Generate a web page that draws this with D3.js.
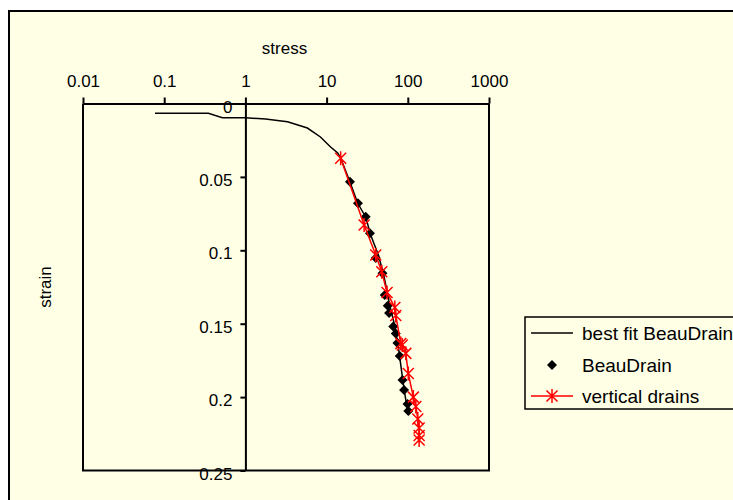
<!DOCTYPE html>
<html>
<head>
<meta charset="utf-8">
<script src="https://cdn.jsdelivr.net/npm/d3@7"></script>
<style>
  body { margin: 0; background: #fff; }
  svg { display: block; font-family: "Liberation Sans", Arial, sans-serif; }
</style>
</head>
<body>
<div id="chart"></div>
<script>
// data
const xTicks = [0.01, 0.1, 1, 10, 100, 1000];
const yTicks = [0, 0.05, 0.1, 0.15, 0.2, 0.25];

const fitStress = [0.077, 0.35, 0.52, 1.0, 1.77, 3.3, 5.8, 8.4, 11.2, 13.7, 14.9, 19.2, 24.1, 30.3, 34.9, 43.9, 52.0, 59.9, 69.2, 77.4, 86.8, 94.5, 102.8];
const fitStrain = [0.0067, 0.0067, 0.0097, 0.0097, 0.0106, 0.0124, 0.0167, 0.0228, 0.0296, 0.0337, 0.0371, 0.0528, 0.0678, 0.0773, 0.0896, 0.1039, 0.1202, 0.1373, 0.1516, 0.1679, 0.1884, 0.2020, 0.2122];

const beauStress = [19.4, 24.3, 30.3, 34.2, 40.3, 48.7, 52.0, 56.6, 58.8, 66.2, 71.1, 74.6, 79.6, 86.0, 90.0, 99.1, 101.4];
const beauStrain = [0.0533, 0.0680, 0.0771, 0.0884, 0.1053, 0.1157, 0.1305, 0.1377, 0.1427, 0.1519, 0.1566, 0.1632, 0.1720, 0.1883, 0.1952, 0.2047, 0.2095];

const drainStress = [14.9, 29.0, 40.3, 47.8, 55.5, 69.2, 71.1, 82.0, 85.5, 94.5, 101.4, 116.9, 125.6, 132.8, 137.9, 137.9, 137.9];
const drainStrain = [0.0373, 0.0828, 0.1032, 0.1146, 0.1287, 0.1390, 0.1444, 0.1635, 0.1645, 0.1702, 0.1839, 0.2000, 0.2064, 0.2149, 0.2211, 0.2262, 0.2292];

const legendLabels = ['best fit BeauDrain', 'BeauDrain', 'vertical drains'];

const width = 733;
const height = 500;
const bg = '#ffffe6';

const zip = (xs, ys) => xs.map((x, i) => ({x, y: ys[i]}));

const svg = d3.select('#chart')
  .append('svg')
    .attr('width', width)
    .attr('height', height);

// chart area with outer border
svg.append('rect')
  .attr('x', 9).attr('y', 11)
  .attr('width', width + 10).attr('height', height + 10)
  .attr('fill', bg)
  .attr('stroke', '#000')
  .attr('stroke-width', 2);

const x = d3.scaleLog().domain([0.01, 1000]).range([83, 489]);
const y = d3.scaleLinear().domain([0, 0.25]).range([103.5, 470.5]);

// plot area frame
svg.append('path')
  .attr('d', `M${x(0.01)},${y(0)}V${y(0.25)}H${x(1000)}V${y(0)}`)
  .attr('fill', 'none')
  .attr('stroke', '#000')
  .attr('stroke-width', 2);

const fmt = d => String(d);

const xAxis = svg.append('g')
  .attr('transform', `translate(0,${y(0)})`)
  .call(d3.axisTop(x).tickValues(xTicks).tickFormat(fmt).tickSize(6).tickSizeOuter(0).tickPadding(11));

const yAxis = svg.append('g')
  .attr('transform', `translate(${x(1)},0)`)
  .call(d3.axisLeft(y).tickValues(yTicks).tickFormat(fmt).tickSize(5).tickSizeOuter(0).tickPadding(8));

[xAxis, yAxis].forEach(g => {
  g.selectAll('path, line').attr('stroke', '#000').attr('stroke-width', 2);
  g.selectAll('text').attr('fill', '#000').style('font-size', '17px').style('font-family', '"Liberation Sans", Arial, sans-serif');
});
yAxis.selectAll('text').attr('dy', '0.5em');

// axis titles
svg.append('text')
  .attr('x', 284.5).attr('y', 54)
  .attr('text-anchor', 'middle')
  .style('font-size', '17px')
  .text('stress');

svg.append('text')
  .attr('transform', 'translate(51,287) rotate(-90)')
  .attr('text-anchor', 'middle')
  .style('font-size', '17px')
  .text('strain');

const line = d3.line()
  .x(d => x(d.x))
  .y(d => y(d.y));

const diamond = 'M0,-5L5,0L0,5L-5,0Z';
const star = 'M-5.5,-5.5L5.5,5.5M-5.5,5.5L5.5,-5.5M0,-7L0,7';

// best fit
svg.append('path')
  .datum(zip(fitStress, fitStrain))
  .attr('d', line)
  .attr('fill', 'none')
  .attr('stroke', '#000')
  .attr('stroke-width', 1.5);

// BeauDrain points
svg.selectAll('.beau')
  .data(zip(beauStress, beauStrain))
  .enter()
  .append('path')
    .attr('class', 'beau')
    .attr('transform', d => `translate(${x(d.x)},${y(d.y)})`)
    .attr('d', diamond)
    .attr('fill', '#000');

// vertical drains
svg.append('path')
  .datum(zip(drainStress, drainStrain))
  .attr('d', line)
  .attr('fill', 'none')
  .attr('stroke', '#ff0000')
  .attr('stroke-width', 1.5);

svg.selectAll('.drain')
  .data(zip(drainStress, drainStrain))
  .enter()
  .append('path')
    .attr('class', 'drain')
    .attr('transform', d => `translate(${x(d.x)},${y(d.y)})`)
    .attr('d', star)
    .attr('fill', 'none')
    .attr('stroke', '#ff0000')
    .attr('stroke-width', 1.5);

// legend
const legend = svg.append('g');
legend.append('rect')
  .attr('x', 525).attr('y', 317)
  .attr('width', 240).attr('height', 92)
  .attr('fill', bg)
  .attr('stroke', '#000')
  .attr('stroke-width', 1.5);

const rowsY = [333, 365, 396];
legend.selectAll('text')
  .data(legendLabels)
  .enter()
  .append('text')
    .attr('x', 582)
    .attr('y', (d, i) => rowsY[i] + 7)
    .style('font-size', '19px')
    .text(d => d);

legend.append('line')
  .attr('x1', 531).attr('x2', 573)
  .attr('y1', rowsY[0]).attr('y2', rowsY[0])
  .attr('stroke', '#000').attr('stroke-width', 1.5);
legend.append('path')
  .attr('transform', `translate(552,${rowsY[1]})`)
  .attr('d', diamond)
  .attr('fill', '#000');
legend.append('line')
  .attr('x1', 531).attr('x2', 573)
  .attr('y1', rowsY[2]).attr('y2', rowsY[2])
  .attr('stroke', '#ff0000').attr('stroke-width', 1.5);
legend.append('path')
  .attr('transform', `translate(552,${rowsY[2]})`)
  .attr('d', star)
  .attr('fill', 'none')
  .attr('stroke', '#ff0000').attr('stroke-width', 1.5);
</script>
</body>
</html>
